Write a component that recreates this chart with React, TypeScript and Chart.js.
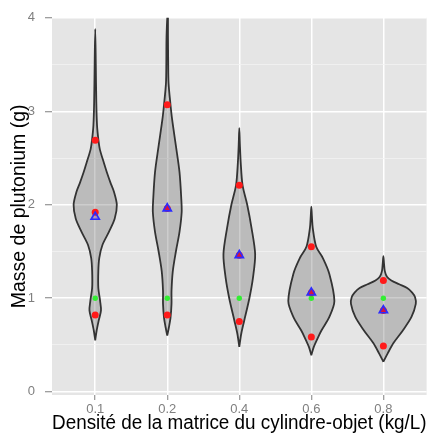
import React, { useEffect, useRef } from 'react';
import { Chart, registerables } from 'chart.js';

Chart.register(...registerables);

// Categories (matrix density, kg/L)
const categories = ['0.1', '0.2', '0.4', '0.6', '0.8'];
const yTickValues = [0, 0.5, 1, 1.5, 2, 2.5, 3, 3.5, 4];

// Violin profiles: masses (g) and half-widths (in category units)
const violin01Y = [0.55, 0.655, 0.76, 0.87, 0.97, 1.11, 1.29, 1.43, 1.57, 1.71, 1.85, 2.0, 2.14, 2.24, 2.35, 2.45, 2.59, 2.69, 2.85, 3.1, 3.5, 3.88];
const violin01W = [0, 0.02, 0.048, 0.08, 0.068, 0.043, 0.043, 0.056, 0.1, 0.19, 0.27, 0.3, 0.26, 0.21, 0.16, 0.12, 0.065, 0.045, 0.025, 0.015, 0.008, 0];

const violin02Y = [0.6, 0.69, 0.79, 0.94, 1.08, 1.29, 1.5, 1.71, 1.92, 2.06, 2.35, 2.63, 2.91, 3.07, 3.3, 3.51, 3.8, 4.1];
const violin02W = [0, 0.023, 0.045, 0.059, 0.059, 0.077, 0.12, 0.17, 0.2, 0.195, 0.17, 0.12, 0.068, 0.045, 0.018, 0.013, 0.01, 0.008];

const violin04Y = [0.48, 0.62, 0.76, 1.0, 1.22, 1.47, 1.75, 2.0, 2.21, 2.45, 2.65, 2.82];
const violin04W = [0, 0.027, 0.068, 0.14, 0.19, 0.22, 0.17, 0.11, 0.045, 0.02, 0.008, 0];

const violin06Y = [0.39, 0.48, 0.585, 0.655, 0.8, 0.97, 1.26, 1.43, 1.55, 1.75, 1.88, 1.98];
const violin06W = [0, 0.034, 0.095, 0.14, 0.25, 0.32, 0.25, 0.16, 0.068, 0.02, 0.008, 0];

const violin08Y = [0.32, 0.41, 0.52, 0.655, 0.8, 0.94, 1.01, 1.06, 1.11, 1.15, 1.19, 1.23, 1.29, 1.38, 1.45];
const violin08W = [0, 0.06, 0.14, 0.27, 0.39, 0.45, 0.44, 0.4, 0.33, 0.22, 0.11, 0.05, 0.02, 0.008, 0];

const violinYs = [violin01Y, violin02Y, violin04Y, violin06Y, violin08Y];
const violinWs = [violin01W, violin02W, violin04W, violin06W, violin08W];

// Summary markers
const upperQuantile = [2.69, 3.07, 2.21, 1.55, 1.19];
const medianValues = [1.92, 1.96, 1.46, 1.06, 0.87];
const lowerQuantile = [0.82, 0.82, 0.75, 0.585, 0.49];
const trueValues = [1, 1, 1, 1, 1];
const meanValues = [1.87, 1.96, 1.46, 1.06, 0.87];

const FONT = "'Liberation Sans', Arial, Helvetica, sans-serif";

function violinPolygon(center: number, ys: number[], ws: number[]) {
  const pts: { x: number; y: number }[] = [];
  for (let i = 0; i < ys.length; i++) pts.push({ x: center + ws[i], y: ys[i] });
  for (let i = ys.length - 2; i >= 0; i--) pts.push({ x: center - ws[i], y: ys[i] });
  return pts;
}

const panelBg = {
  id: 'panelBg',
  beforeDraw(chart: any) {
    const { ctx, chartArea } = chart;
    ctx.save();
    ctx.fillStyle = '#E5E5E5';
    ctx.fillRect(chartArea.left, chartArea.top, chartArea.right - chartArea.left, chartArea.bottom - chartArea.top);
    ctx.restore();
  },
};

export default function App() {
  const ref = useRef<HTMLCanvasElement | null>(null);

  useEffect(() => {
    if (!ref.current) return;
    const violinSets = violinYs.map((ys, i) => ({
      type: 'line' as const,
      data: violinPolygon(i + 1, ys, violinWs[i]),
      borderColor: '#333333',
      borderWidth: 1.8,
      backgroundColor: 'rgba(100,100,100,0.32)',
      fill: 'shape',
      pointRadius: 0,
      tension: 0.3,
      order: 10,
    }));
    const pts = (vals: number[]) => vals.map((v, i) => ({ x: i + 1, y: v }));
    const chart = new Chart(ref.current, {
      type: 'line',
      data: {
        datasets: [
          {
            data: pts(meanValues),
            showLine: false,
            pointStyle: 'triangle',
            pointRadius: 4.8,
            pointBorderColor: '#2B2BFF',
            pointBackgroundColor: 'rgba(90,0,170,0.25)',
            pointBorderWidth: 1.6,
            order: 0,
          },
          {
            data: [...pts(upperQuantile), ...pts(medianValues), ...pts(lowerQuantile)],
            showLine: false,
            pointRadius: 3.5,
            pointBorderWidth: 0,
            pointBackgroundColor: '#FF1A1A',
            pointBorderColor: '#FF1A1A',
            order: 1,
          },
          {
            data: pts(trueValues),
            showLine: false,
            pointRadius: 2.7,
            pointBorderWidth: 0,
            pointBackgroundColor: '#33EE33',
            pointBorderColor: '#33EE33',
            order: 2,
          },
          ...violinSets,
        ] as any,
      },
      options: {
        responsive: false,
        animation: false,
        events: [],
        layout: { padding: { top: 13.5, right: 1, left: 0, bottom: 0 } },
        plugins: { legend: { display: false }, tooltip: { enabled: false } },
        scales: {
          x: {
            type: 'linear',
            min: 0.4,
            max: 5.6,
            afterBuildTicks: (scale: any) => {
              scale.ticks = categories.map((_, i) => ({ value: i + 1 }));
            },
            afterFit: (scale: any) => {
              scale.height = 48;
            },
            border: { display: false },
            grid: {
              color: '#FFFFFF',
              lineWidth: 1.5,
              tickColor: '#7F7F7F',
              tickLength: 5,
              tickWidth: 1,
            },
            ticks: {
              autoSkip: false,
              maxRotation: 0,
              padding: 2,
              color: '#7F7F7F',
              font: { family: FONT, size: 13 },
              callback: (v: any) => categories[Math.round(Number(v)) - 1] ?? '',
            },
            title: {
              display: true,
              text: 'Densité de la matrice du cylindre-objet (kg/L)',
              color: '#000000',
              font: { family: FONT, size: 19.5 },
              padding: { top: 0, bottom: 8 },
            },
          },
          y: {
            type: 'linear',
            min: -0.035,
            max: 4.0,
            afterBuildTicks: (scale: any) => {
              scale.ticks = yTickValues.map((v) => ({ value: v }));
            },
            afterFit: (scale: any) => {
              scale.width = 52;
            },
            border: { display: false },
            grid: {
              color: (c: any) => (c.tick && c.tick.value % 1 === 0 ? '#FFFFFF' : '#F2F2F2'),
              lineWidth: (c: any) => (c.tick && c.tick.value % 1 === 0 ? 1.5 : 0.8),
              tickColor: (c: any) => (c.tick && c.tick.value % 1 === 0 ? '#7F7F7F' : 'rgba(0,0,0,0)'),
              tickLength: 7,
              tickWidth: 1,
            },
            ticks: {
              autoSkip: false,
              padding: 10,
              color: '#7F7F7F',
              font: { family: FONT, size: 13 },
              callback: (v: any) => (Number(v) % 1 === 0 ? String(v) : ''),
            },
            title: {
              display: true,
              text: 'Masse de plutonium (g)',
              color: '#000000',
              font: { family: FONT, size: 19.5 },
              padding: { top: 8, bottom: 0 },
            },
          },
        },
      },
      plugins: [panelBg],
    });
    return () => chart.destroy();
  }, []);

  return (
    <div style={{ position: 'fixed', left: 0, top: 0, width: 433, height: 443, background: '#FFFFFF' }}>
      <canvas ref={ref} width={433} height={443} style={{ display: 'block' }} />
    </div>
  );
}
